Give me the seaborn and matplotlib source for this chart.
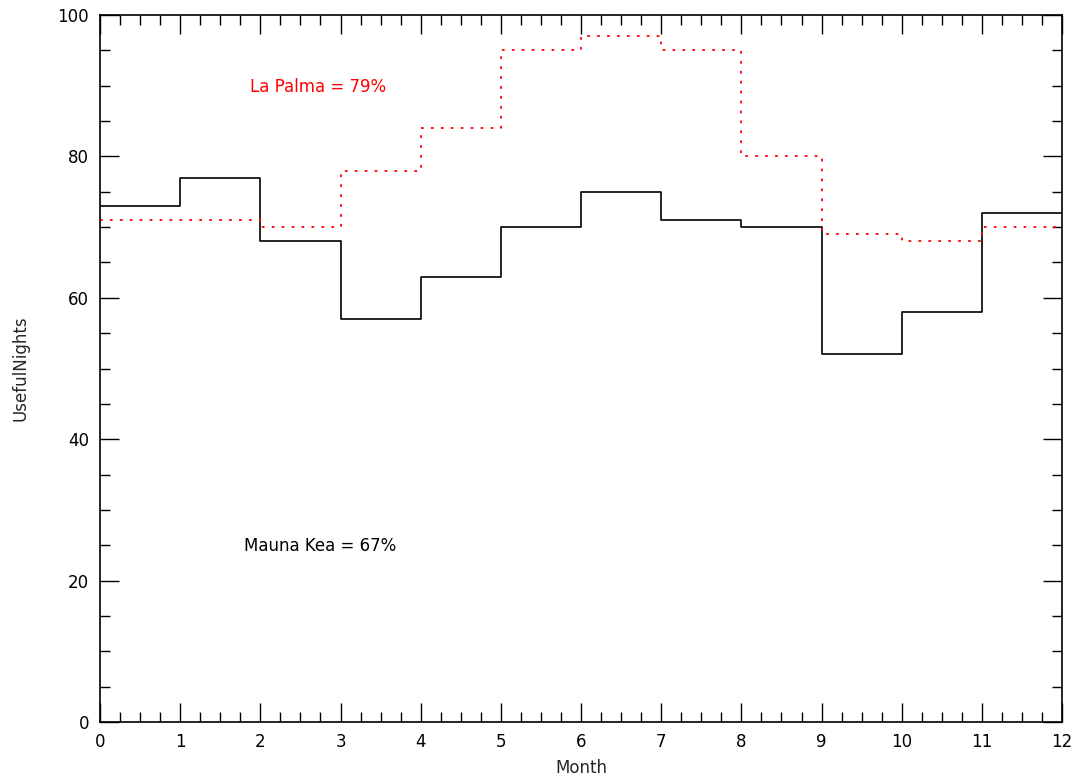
import numpy as np
import pandas as pd
import seaborn as sns
import matplotlib.pyplot as plt
from matplotlib.ticker import MultipleLocator

# Values
months = [0, 1, 2, 3, 4, 5, 6, 7, 8, 9, 10, 11]
mauna_kea = [73, 77, 68, 57, 63, 70, 75, 71, 70, 52, 58, 72]
la_palma = [71, 71, 70, 78, 84, 95, 97, 95, 80, 69, 68, 70]

# close the last step at month 12
df = pd.DataFrame({
    'Month': months + [12],
    'MaunaKea': mauna_kea + [mauna_kea[-1]],
    'LaPalma': la_palma + [la_palma[-1]],
})

sns.set_style('white')
plt.rcParams['font.family'] = ['DejaVu Sans']

fig = plt.figure(figsize=(10.81, 7.79), dpi=100)
ax = fig.add_axes([0.0925, 0.0732, 0.89, 0.9075])

sns.lineplot(data=df, x='Month', y='MaunaKea', ax=ax, color='black',
             lw=1.2, drawstyle='steps-post')
sns.lineplot(data=df, x='Month', y='LaPalma', ax=ax, color='red',
             lw=1.3, linestyle=(0, (1.5, 4)), drawstyle='steps-post')

ax.set_xlim(0, 12)
ax.set_ylim(0, 100)
ax.xaxis.set_major_locator(MultipleLocator(1))
ax.xaxis.set_minor_locator(MultipleLocator(0.25))
ax.yaxis.set_major_locator(MultipleLocator(20))
ax.yaxis.set_minor_locator(MultipleLocator(5))
ax.tick_params(which='both', direction='in', top=True, right=True,
               bottom=True, left=True,
               labelsize=12, width=1, colors='black')
ax.tick_params(which='major', length=14, pad=8)
ax.tick_params(which='minor', length=7)
for s in ax.spines.values():
    s.set_color('black')
    s.set_linewidth(1.2)

ax.set_xlabel('Month', fontsize=12, labelpad=6)
ax.set_ylabel('UsefulNights', fontsize=12, labelpad=20)

ax.text(1.87, 89.8, 'La Palma = 79%', color='red', fontsize=12, va='center')
ax.text(1.8, 24.9, 'Mauna Kea = 67%', color='black', fontsize=12, va='center')

plt.savefig('out.png', dpi=100)
